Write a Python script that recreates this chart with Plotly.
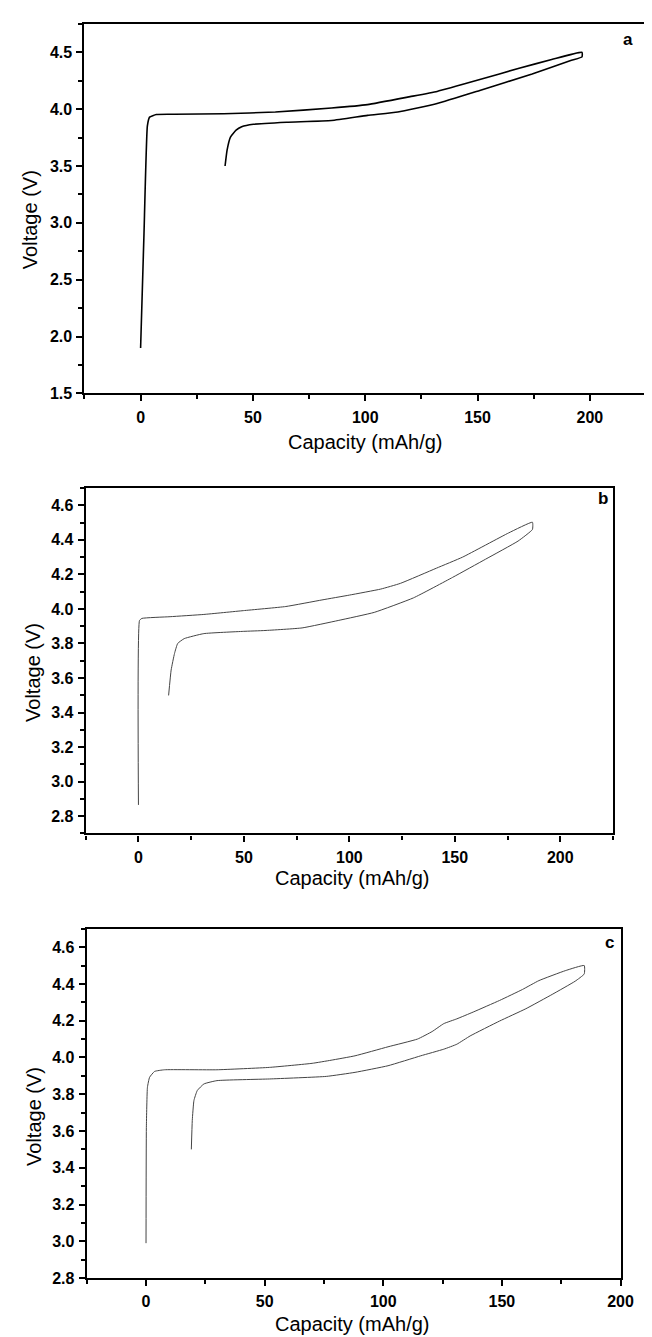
import plotly.graph_objects as go

# ---- data ----
a_cap = [0, 1.5, 3.0, 4.0, 7, 15, 37, 60, 85, 101, 120, 132, 151, 168.5, 183, 196.5,
         196.5, 191.8, 174.3, 151, 132, 114.5, 101, 85, 65, 50.2, 45, 42.5, 40, 38.5, 37.6]
a_volt = [1.9, 2.9, 3.85, 3.93, 3.953, 3.955, 3.96, 3.975, 4.01, 4.04, 4.11, 4.156, 4.26, 4.36, 4.436, 4.5,
          4.46, 4.43, 4.31, 4.165, 4.05, 3.975, 3.945, 3.90, 3.885, 3.867, 3.845, 3.815, 3.755, 3.64, 3.5]

b_cap = [0, 0.5, 1.6, 15, 31, 49.7, 69.9, 87, 100, 114.9, 124.2, 141.3, 153.7, 175.5, 186.8,
         186.8, 180, 164.6, 149, 130.4, 111.8, 94.7, 77.6, 60, 49.7, 31, 21.7, 18.6, 17.1, 15.5, 14.3]
b_volt = [2.865, 3.933, 3.945, 3.955, 3.968, 3.99, 4.014, 4.052, 4.08, 4.115, 4.148, 4.236, 4.30, 4.44, 4.502,
          4.46, 4.393, 4.288, 4.183, 4.064, 3.98, 3.933, 3.89, 3.875, 3.87, 3.857, 3.828, 3.80, 3.742, 3.646, 3.499]

c_cap = [0, 0.15, 0.6, 1.5, 3.6, 7.8, 29.9, 52, 70, 78, 88.1, 102, 114.4, 120.6, 125.5, 131, 137.9, 149,
         158.7, 165.6, 176.7, 184.7, 184.7, 180.9, 171.2, 160.1, 149, 136.6, 131, 125.5, 115.8, 102, 88.1,
         76, 52, 29.9, 24.4, 21.6, 20.2, 19.5, 19.1]
c_volt = [2.99, 3.62, 3.838, 3.892, 3.924, 3.933, 3.933, 3.946, 3.968, 3.985, 4.009, 4.058, 4.10, 4.141,
          4.184, 4.21, 4.247, 4.31, 4.37, 4.418, 4.472, 4.50, 4.454, 4.415, 4.343, 4.265, 4.198, 4.117,
          4.072, 4.045, 4.009, 3.955, 3.919, 3.897, 3.883, 3.874, 3.856, 3.82, 3.766, 3.658, 3.50]

panel_labels = ["a", "b", "c"]
x_title = "Capacity (mAh/g)"
y_title = "Voltage (V)"

x_ticks_ab = [0, 50, 100, 150, 200]
x_ticks_c = [0, 50, 100, 150, 200]
y_ticks_a = [1.5, 2.0, 2.5, 3.0, 3.5, 4.0, 4.5]
y_ticks_bc = [2.8, 3.0, 3.2, 3.4, 3.6, 3.8, 4.0, 4.2, 4.4, 4.6]

W, H = 652, 1337
FONT = "Arial, Liberation Sans, Helvetica, sans-serif"

def fx(px):
    return px / W

def fy(py):
    return 1 - py / H

fig = go.Figure()
fig.add_trace(go.Scatter(x=a_cap, y=a_volt, mode="lines",
                         line=dict(color="black", width=1.6, shape="spline", smoothing=0.4),
                         xaxis="x", yaxis="y", showlegend=False))
fig.add_trace(go.Scatter(x=b_cap, y=b_volt, mode="lines",
                         line=dict(color="#444444", width=1, shape="spline", smoothing=0.4),
                         xaxis="x2", yaxis="y2", showlegend=False))
fig.add_trace(go.Scatter(x=c_cap, y=c_volt, mode="lines",
                         line=dict(color="#444444", width=1, shape="spline", smoothing=0.4),
                         xaxis="x3", yaxis="y3", showlegend=False))

# pixel boxes: (left, right, top, bottom)
boxes = [(78, 651, 16, 388), (79.3, 617.3, 483.3, 831), (80.3, 625, 927, 1278.7)]
xranges = [[-25, 225], [-25, 225], [-25, 200]]
yranges = [[1.5, 4.75], [2.7, 4.7], [2.8, 4.7]]
xticks = [x_ticks_ab, x_ticks_ab, x_ticks_c]
yticks = [y_ticks_a, y_ticks_bc, y_ticks_bc]
yminor = [0.25, 0.1, 0.1]

def axis_common():
    return dict(showline=True, linecolor="black", linewidth=2.2, mirror=True,
                ticks="outside", ticklen=6, tickwidth=1.8, tickcolor="black",
                showgrid=False, zeroline=False,
                tickfont=dict(family=FONT, size=16, color="black"))

layout = dict(width=W, height=H, margin=dict(l=0, r=0, t=0, b=0),
              paper_bgcolor="white", plot_bgcolor="white", showlegend=False)

annotations = []
xt_cx = [365, 351, 352]
xt_y = [437, 876, 1325]
yt_x = [22, 26, 27]
yt_cy = [213, 669, 1116]
lab_pos = [(633, 32), (607, 494), (614, 941)]
for i, (l, r, t, b) in enumerate(boxes):
    sx = "" if i == 0 else str(i + 1)
    xa = axis_common()
    xa.update(domain=[fx(l), fx(r)], range=xranges[i],
              tickvals=xticks[i], ticktext=["<b>%d</b>" % v for v in xticks[i]],
              anchor="y" + sx, ticklabelstandoff=2,
              minor=dict(dtick=25, tick0=0, ticks="outside", ticklen=4, tickwidth=1.5,
                         tickcolor="black", showgrid=False))
    ya = axis_common()
    ya.update(domain=[fy(b), fy(t)], range=yranges[i],
              tickvals=yticks[i], ticktext=["<b>%.1f</b>" % v for v in yticks[i]],
              anchor="x" + sx, ticklabelstandoff=1,
              minor=dict(dtick=yminor[i], tick0=0, ticks="outside", ticklen=4, tickwidth=1.5,
                         tickcolor="black", showgrid=False))
    layout["xaxis" + sx] = xa
    layout["yaxis" + sx] = ya
    annotations.append(dict(text=x_title, xref="paper", yref="paper",
                            x=fx(xt_cx[i]), y=fy(xt_y[i]), showarrow=False,
                            xanchor="center", yanchor="middle",
                            font=dict(family=FONT, size=20, color="black")))
    annotations.append(dict(text=y_title, xref="paper", yref="paper",
                            x=fx(yt_x[i]), y=fy(yt_cy[i]), showarrow=False, textangle=-90,
                            xanchor="center", yanchor="middle",
                            font=dict(family=FONT, size=20, color="black")))
    annotations.append(dict(text="<b>%s</b>" % panel_labels[i], xref="paper", yref="paper",
                            x=fx(lab_pos[i][0]), y=fy(lab_pos[i][1]), showarrow=False,
                            xanchor="center", yanchor="middle",
                            font=dict(family=FONT, size=17, color="black")))

layout["annotations"] = annotations
fig.update_layout(**layout)
fig.write_html("out.html")
